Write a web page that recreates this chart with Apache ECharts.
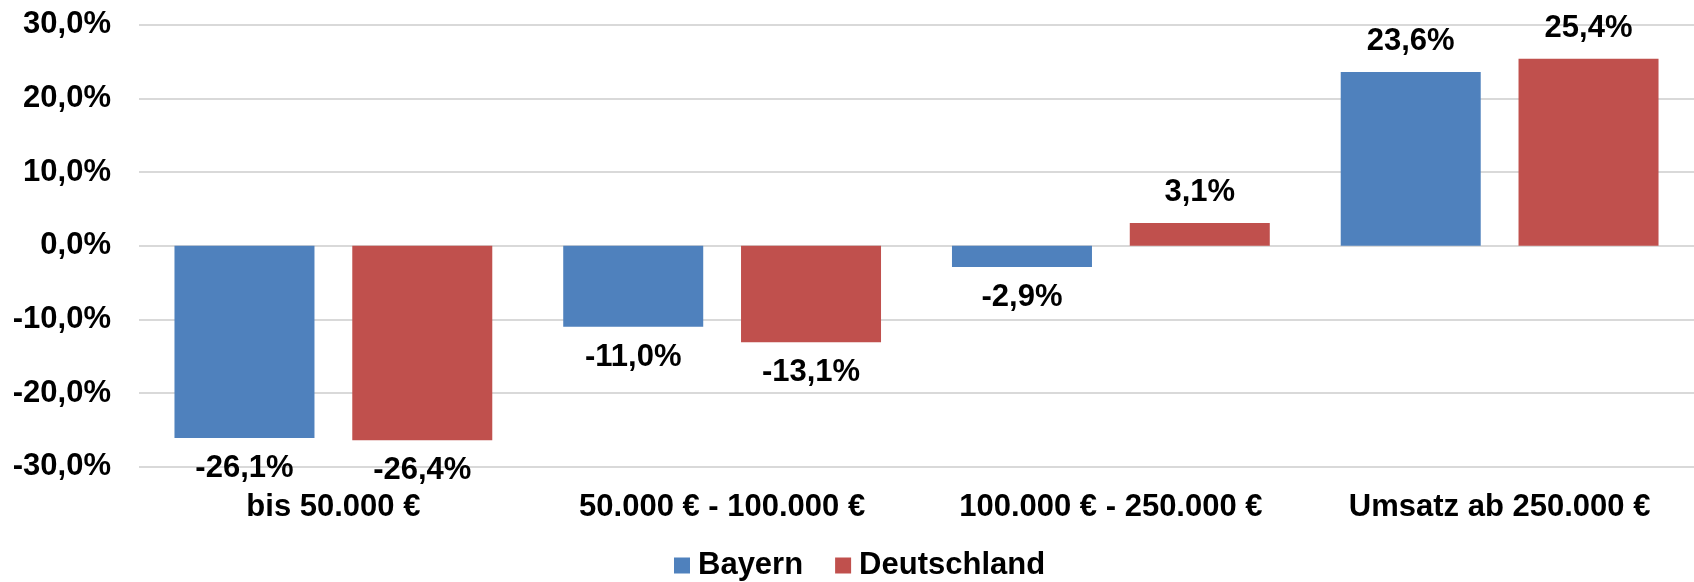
<!DOCTYPE html>
<html>
<head>
<meta charset="utf-8">
<script src="https://cdn.jsdelivr.net/npm/echarts@6/dist/echarts.min.js"></script>
<style>
  html, body { margin: 0; padding: 0; background: #fff; }
  #chart { width: 1694px; height: 582px; }
</style>
</head>
<body>
<div id="chart"></div>
<script>
// Kategorien und Werte (%)
var categories = ['bis 50.000 €', '50.000 € - 100.000 €', '100.000 € - 250.000 €', 'Umsatz ab 250.000 €']
var seriesNames = ['Bayern', 'Deutschland']
var bayern = [-26.1, -11.0, -2.9, 23.6]
var deutschland = [-26.4, -13.1, 3.1, 25.4]
var yTicks = [-30, -20, -10, 0, 10, 20, 30]

var font = '"Liberation Sans", Arial, sans-serif'
function pct(v, digits) {
  return v.toFixed(digits).replace('.', ',') + '%'
}

function barLabel(v) {
  return {
    show: true,
    position: v < 0 ? 'bottom' : 'top',
    distance: 15,
    fontFamily: font,
    fontWeight: 'bold',
    fontSize: 31,
    color: '#000',
    formatter: function (p) { return pct(p.value, 1) }
  }
}

function makeSeries(name, values, color) {
  return {
    name: name,
    type: 'bar',
    barWidth: 140,
    barGap: '27%',
    itemStyle: { color: color },
    data: values.map(function (v) {
      return { value: v, label: barLabel(v) }
    })
  }
}

var chart = echarts.init(document.getElementById('chart'))
chart.setOption({
  backgroundColor: '#fff',
  animation: false,
  textStyle: { fontFamily: font },
  legend: {
    data: seriesNames,
    left: 674,
    top: 550,
    padding: 0,
    icon: 'rect',
    itemWidth: 16,
    itemHeight: 16,
    itemGap: 32,
    textStyle: { fontFamily: font, fontWeight: 'bold', fontSize: 31, color: '#000', padding: [0, 0, 0, 3] }
  },
  grid: {
    left: 139,
    right: 0,
    top: 24.8,
    bottom: 115.3,
    containLabel: false
  },
  xAxis: {
    type: 'category',
    data: categories,
    axisLine: { show: false, onZero: false },
    axisTick: { show: false },
    axisLabel: {
      margin: 25,
      interval: 0,
      fontFamily: font,
      fontWeight: 'bold',
      fontSize: 31,
      color: '#000'
    }
  },
  yAxis: {
    type: 'value',
    min: yTicks[0],
    max: yTicks[yTicks.length - 1],
    interval: 10,
    axisLine: { show: false },
    axisTick: { show: false },
    axisLabel: {
      margin: 28,
      fontFamily: font,
      fontWeight: 'bold',
      fontSize: 31,
      color: '#000',
      formatter: function (v) { return pct(v, 1) }
    },
    splitLine: { lineStyle: { color: '#d9d9d9', width: 2 } }
  },
  series: [
    makeSeries(seriesNames[0], bayern, '#4f81bd'),
    makeSeries(seriesNames[1], deutschland, '#c0504d')
  ]
})
</script>
</body>
</html>
